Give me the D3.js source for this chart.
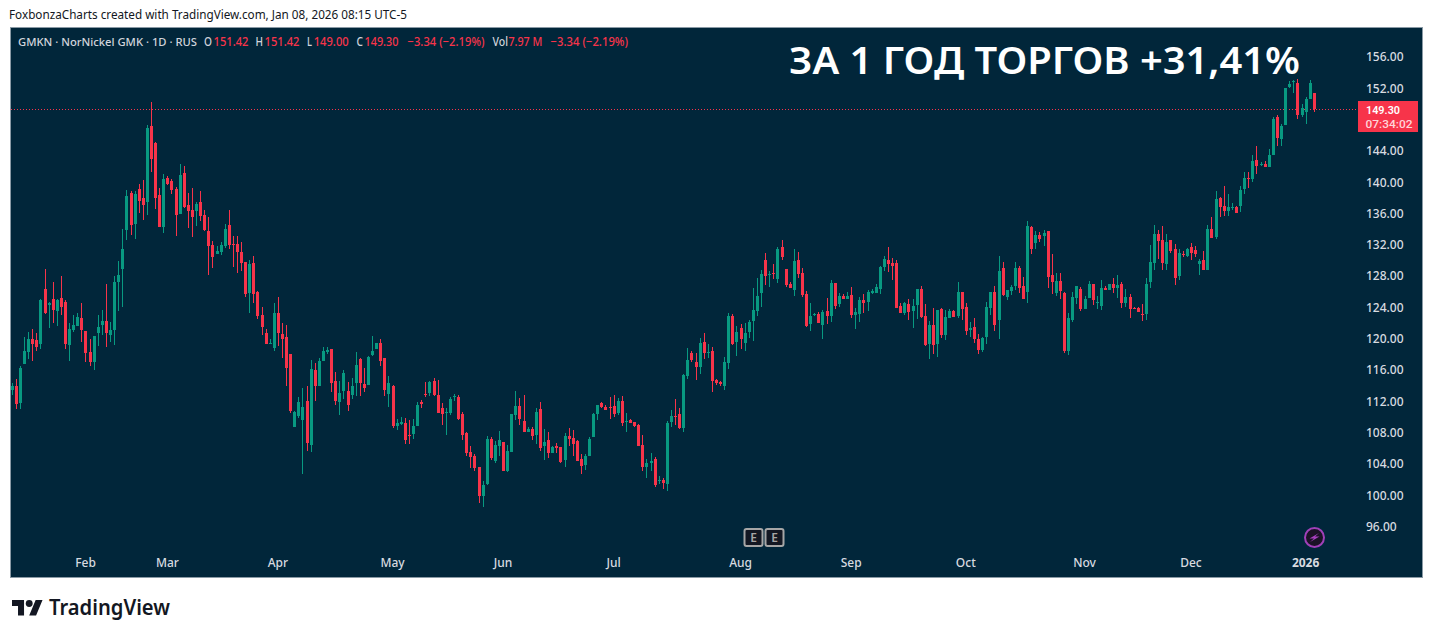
<!DOCTYPE html>
<html><head><meta charset="utf-8">
<script src="https://cdn.jsdelivr.net/npm/d3@7"></script>
<style>html,body{margin:0;padding:0;background:#fff;overflow:hidden}svg{display:block}</style>
</head><body><div id="chart"></div>
<script>
const opens=[113.44,113.95,111.78,116.76,118.3,119.96,119.83,119.32,126.35,124.3,
125.07,123.54,125.2,124.69,119.19,121.11,121.62,122.64,120.98,118.3,
117.02,120.72,121.75,122.26,120.47,121.11,127.24,128.9,133.89,138.62,
134.66,139.13,137.98,137.47,147.18,145.01,138.36,134.27,140.53,140.15,
139.13,135.93,141.17,137.08,136.45,136.32,137.47,135.8,133.76,131.97,
130.82,131.08,131.84,134.53,132.1,132.1,131.08,129.8,125.84,129.67,
125.96,123.03,120.72,119.32,118.81,123.28,120.6,120.21,118.04,108.73,
110.12,109.61,112.03,106.41,116.0,113.95,117.15,118.3,118.68,114.59,
111.91,113.31,113.31,112.8,114.34,117.4,114.21,114.08,117.91,118.68,
119.45,117.53,112.93,113.95,108.84,109.1,109.22,107.69,107.82,108.84,
111.91,112.93,113.06,114.59,112.8,111.14,110.5,110.5,112.55,112.55,
110.37,107.95,105.51,105.0,103.6,99.89,101.43,107.18,104.37,106.28,
106.79,103.09,105.52,110.24,111.4,109.48,108.07,108.46,107.69,111.01,
106.28,107.05,105.39,106.28,106.16,104.49,107.56,107.31,106.92,104.62,
103.86,105.0,107.43,110.37,111.78,111.27,111.27,111.4,110.5,112.04,
109.35,109.61,109.35,108.97,106.41,103.6,104.11,104.62,101.81,101.94,
101.43,109.35,110.12,110.37,108.59,115.23,118.17,117.02,116.38,119.58,
118.17,118.43,114.72,114.46,113.95,116.89,122.9,119.58,121.37,119.45,
120.85,122.26,123.54,125.84,130.06,128.14,128.4,127.63,131.72,128.91,
126.99,126.22,130.06,128.4,125.71,121.88,123.03,123.16,121.75,123.54,
122.9,127.12,124.43,125.46,125.07,125.58,123.03,123.16,124.94,124.69,
125.84,125.84,126.35,129.16,130.06,129.67,129.67,124.18,123.28,124.43,
123.54,124.3,126.35,122.9,119.32,121.74,119.32,123.79,120.47,122.64,
123.53,122.89,125.96,124.04,121.1,121.49,119.95,118.55,120.21,123.92,
125.96,122.38,129.03,125.32,126.09,126.73,129.03,126.73,125.96,134.27,
132.22,133.25,133.12,133.76,128.13,125.83,127.37,125.83,118.42,122.38,
125.19,126.34,123.79,125.19,126.98,124.55,124.17,126.47,126.22,126.98,
126.47,126.98,124.55,125.32,123.92,123.92,123.15,123.15,127.24,129.67,
133.37,132.61,129.54,132.61,131.46,128.0,130.82,130.56,131.71,131.33,
129.54,130.05,128.77,134.01,132.99,137.97,136.95,136.31,136.69,136.82,
136.95,139.12,140.53,140.4,142.83,142.19,142.32,141.93,143.47,148.32,
145.51,147.3,152.16,152.8,152.67,148.58,148.96,150.62,151.42];
const closes=[113.95,111.65,116.25,118.42,119.96,119.32,118.94,124.94,123.28,124.56,
123.67,124.94,124.05,119.32,121.24,121.75,122.77,121.11,118.17,117.02,
120.34,121.49,122.26,120.72,121.11,127.24,128.14,131.46,138.23,134.53,
138.49,137.6,137.08,146.92,142.96,137.98,134.27,140.41,139.77,139.0,
135.8,140.92,136.83,136.32,135.55,137.21,135.68,133.89,131.84,130.44,
131.2,131.97,134.02,131.97,131.97,131.08,129.67,125.71,129.54,125.71,
122.9,121.49,119.32,119.45,123.28,120.72,119.96,116.25,110.76,110.63,
111.91,111.27,106.67,116.12,113.95,117.15,118.42,118.55,114.34,112.03,
113.06,115.61,111.52,113.95,116.64,114.34,113.7,117.66,118.42,119.45,
117.15,113.44,114.34,108.84,109.22,109.35,107.05,107.56,108.84,111.52,
111.65,112.8,114.46,112.8,110.5,110.37,110.63,112.29,112.67,109.73,
107.69,105.39,104.88,103.47,99.89,101.3,107.18,104.75,106.41,107.05,
103.09,105.64,110.37,111.4,109.73,108.07,108.46,107.56,110.63,106.03,
106.79,105.39,106.16,106.03,104.24,107.56,107.18,106.54,104.37,103.73,
105.0,107.18,110.37,111.52,111.27,110.88,111.14,110.37,112.04,109.22,
109.48,109.22,108.84,106.29,103.6,104.11,104.37,101.3,101.94,101.56,
109.23,110.12,110.0,108.59,115.36,117.28,117.28,116.38,119.45,118.17,
118.3,114.59,114.34,114.21,117.02,122.9,119.32,120.85,119.96,120.73,
122.13,123.67,125.46,128.27,128.01,128.27,128.27,131.46,130.44,126.86,
126.48,129.93,128.27,125.58,121.62,122.9,123.16,122.0,123.41,122.9,
127.12,124.18,125.46,125.07,125.46,123.03,123.41,124.94,124.56,125.97,
126.09,126.6,129.16,130.18,129.54,129.29,123.92,123.28,124.56,123.41,
124.18,126.35,122.77,119.19,121.75,119.19,123.66,120.47,122.77,123.53,
122.77,125.96,123.79,120.98,121.36,119.95,118.55,120.08,124.04,125.96,
121.74,128.64,125.58,126.22,126.6,129.03,126.47,125.06,134.4,131.46,
133.25,132.73,133.5,127.88,127.24,127.37,126.09,118.42,122.64,125.32,
126.73,123.79,125.06,126.98,124.94,124.68,126.47,126.22,126.98,126.47,
126.85,124.55,125.32,123.79,123.79,123.4,123.02,126.98,129.8,133.37,
132.48,129.67,132.35,131.2,127.75,130.95,130.69,131.46,130.94,130.82,
129.92,128.77,134.01,132.86,137.84,136.82,136.31,136.82,136.82,136.05,
138.99,140.53,140.4,142.7,142.06,142.32,141.93,143.47,148.07,145.64,
147.17,152.03,152.54,152.92,148.58,149.47,150.62,152.67,149.3];
const highs=[114.29,114.85,116.5,120.2,120.85,121.24,120.72,125.07,128.9,124.69,
127.24,125.07,128.01,124.94,122.0,123.03,123.28,124.56,120.98,119.96,
120.34,123.03,123.67,126.99,122.13,128.01,129.93,134.02,139.0,138.87,
138.87,139.77,140.28,147.31,150.25,145.14,139.26,141.05,140.79,140.41,
139.38,142.32,142.07,138.62,139.26,137.47,138.87,136.45,135.55,132.48,
131.84,132.36,134.66,136.45,133.12,133.12,132.36,129.8,130.05,130.57,
126.09,124.05,121.24,119.96,124.56,125.33,122.0,121.75,118.04,110.76,
112.55,113.68,113.95,117.27,116.89,117.53,118.94,118.94,118.68,115.74,
114.59,116.0,114.46,114.97,118.3,117.53,116.25,117.79,120.34,119.45,
119.96,117.53,115.23,114.08,109.73,109.99,109.86,109.61,109.73,111.91,
112.16,114.46,114.59,114.97,114.72,111.78,111.14,112.55,112.93,112.8,
110.63,108.07,106.28,105.26,103.6,101.81,107.56,107.43,106.92,108.2,
106.79,106.41,110.37,113.31,112.42,112.8,108.71,108.71,111.14,111.91,
108.46,108.07,106.28,106.67,106.16,107.94,108.58,108.33,107.05,105.26,
105.26,107.43,110.5,111.52,111.91,111.52,112.55,112.8,112.42,112.68,
110.5,109.74,109.35,109.1,107.69,104.62,105.39,104.88,102.45,102.2,
109.48,110.89,112.29,111.14,115.49,118.81,118.43,118.17,120.09,120.73,
119.32,118.94,114.85,114.59,117.66,123.28,123.16,121.62,121.88,122.0,
122.39,126.48,127.76,128.78,130.95,128.65,129.54,131.72,132.61,128.91,
127.24,131.46,131.08,129.03,126.09,124.56,123.28,123.41,123.67,125.2,
127.5,127.12,125.84,125.71,125.97,126.6,123.92,125.33,125.71,126.22,
126.35,126.99,129.29,130.57,131.72,130.31,130.06,124.56,124.69,125.07,
125.07,126.35,126.73,124.43,122.26,123.92,123.66,123.92,123.66,123.79,
123.66,127.24,125.96,124.56,122.13,122.64,120.59,120.21,124.68,125.96,
126.73,130.56,129.79,126.22,126.86,129.79,129.28,127.88,135.03,134.4,
133.76,133.63,133.88,133.76,130.82,128.39,128.39,125.96,123.28,125.96,
126.73,126.6,125.45,127.37,126.98,125.45,127.49,126.73,126.98,127.75,
128.13,127.24,126.34,125.7,124.04,124.04,124.43,127.75,131.97,134.52,
133.88,134.4,133.37,132.61,132.09,131.46,131.2,131.58,132.22,131.84,
130.17,131.2,134.52,135.54,138.87,138.1,139.51,138.48,137.33,136.95,
139.51,141.29,141.29,143.47,144.62,142.57,142.7,144.23,148.32,148.58,
147.43,152.03,152.92,153.05,153.18,149.98,150.88,153.05,151.42];
const lows=[112.8,111.0,111.0,116.76,117.4,117.15,118.42,118.68,123.15,121.36,
121.98,121.62,123.03,118.68,117.15,120.85,121.62,119.58,117.02,116.51,
116.0,119.09,120.47,118.94,119.58,119.19,123.54,124.07,132.61,133.25,
132.74,136.06,135.17,135.8,141.3,136.57,134.27,133.5,139.64,138.49,
133.12,135.93,136.7,134.14,133.0,134.4,135.04,133.76,128.14,129.03,
130.82,130.69,131.59,131.46,129.18,128.42,128.65,125.33,123.28,124.56,
122.52,120.47,119.32,119.32,118.43,119.09,117.53,113.95,110.5,108.73,
109.86,102.71,105.65,105.52,112.03,113.95,117.15,118.04,113.2,111.52,
110.24,112.29,110.76,112.29,112.67,112.67,113.19,114.08,117.79,118.68,
116.51,112.67,111.27,108.58,108.33,108.97,106.54,106.54,107.18,108.84,
111.14,112.55,112.67,112.67,110.5,108.97,107.69,110.24,112.03,109.61,
107.05,105.0,103.47,103.09,98.98,98.49,101.3,104.49,104.11,105.0,
103.09,102.96,105.52,109.61,108.97,108.07,108.07,107.05,106.54,105.65,
104.49,104.75,105.39,105.39,104.11,103.6,106.28,105.0,104.37,102.71,
103.22,105.0,107.43,109.61,111.14,110.88,109.74,110.0,110.25,108.84,
108.07,109.22,108.71,106.29,103.09,102.2,103.09,101.05,101.43,100.79,
100.53,108.71,108.97,108.46,108.07,114.85,117.02,114.72,115.49,117.4,
117.53,113.19,114.08,113.95,113.44,116.13,119.19,117.79,118.68,118.43,
120.09,119.7,122.9,124.05,126.86,126.61,127.63,127.12,130.06,126.61,
126.48,125.46,127.76,125.33,121.49,120.98,122.9,122.0,119.96,121.88,
122.13,123.8,124.05,125.07,125.07,122.64,121.24,122.13,123.28,123.54,
125.71,125.84,125.71,128.65,128.52,127.5,123.92,123.28,123.03,122.39,
121.37,122.52,122.64,119.07,117.4,118.04,117.65,120.08,119.83,122.64,
122.77,122.64,122.38,120.47,120.21,119.44,118.04,118.29,119.32,123.02,
120.98,119.95,125.45,124.94,125.58,126.22,125.83,125.06,124.55,130.82,
131.46,132.35,131.84,126.47,125.7,125.45,125.06,118.17,117.91,122.13,
124.43,123.53,123.79,125.19,124.3,123.79,123.66,126.22,126.22,125.83,
125.19,123.92,124.04,122.64,123.79,123.4,122.25,122.38,126.47,128.77,
130.18,128.77,128.77,130.95,126.85,127.49,130.43,130.43,130.05,130.43,
128.13,128.77,128.77,132.86,132.73,135.54,135.67,135.67,136.44,136.05,
136.18,138.48,139.25,140.02,141.04,142.06,141.93,141.93,143.47,144.62,
144.62,147.3,152.03,151.39,148.07,148.32,147.43,150.62,149.0];

const priceTicks=[96,100,104,108,112,116,120,124,128,132,136,140,144,152,156];
const timeTickBars=[18,38,65,93,120,147,178,205,233,262,288,316];
const timeTickLabels=["Feb","Mar","Apr","May","Jun","Jul","Aug","Sep","Oct","Nov","Dec","2026"];
const lastClose=149.30;

const W=1433,H=638;
const FONT='"Noto Sans",sans-serif';
const BG='#01263a',UP='#089981',DOWN='#f7344a',AXIS='#d8dbe0';
const svg=d3.select('#chart').append('svg').attr('width',W).attr('height',H);
svg.append('rect').attr('width',W).attr('height',H).attr('fill','#fff');
svg.append('rect').attr('x',10.5).attr('y',27.5).attr('width',1412).attr('height',550)
  .attr('fill',BG).attr('stroke','#8a9aa5').attr('stroke-width',1);

const x=d3.scaleLinear().domain([0,opens.length-1]).range([12.3,1314.3]);
const y=d3.scaleLinear().domain([96,156]).range([526.5,57]);
const bars=opens.map((o,i)=>({i,o,c:closes[i],h:highs[i],l:lows[i],col:closes[i]>=o?UP:DOWN}));
const cx=d=>Math.floor(x(d.i));

// last price line
svg.append('line').attr('x1',11).attr('x2',1358).attr('y1',Math.floor(y(lastClose))+.5).attr('y2',Math.floor(y(lastClose))+.5)
  .attr('stroke',DOWN).attr('stroke-width',1).attr('stroke-dasharray','1 2');

const g=svg.append('g').attr('shape-rendering','crispEdges');
g.selectAll('rect.wick').data(bars).join('rect').attr('class','wick')
  .attr('x',cx).attr('width',1)
  .attr('y',d=>Math.round(y(d.h))).attr('height',d=>Math.max(1,Math.round(y(d.l))-Math.round(y(d.h))))
  .attr('fill',d=>d.col);
g.selectAll('rect.body').data(bars).join('rect').attr('class','body')
  .attr('x',d=>cx(d)-1).attr('width',3)
  .attr('y',d=>Math.round(y(Math.max(d.o,d.c))))
  .attr('height',d=>Math.max(1,Math.round(y(Math.min(d.o,d.c)))-Math.round(y(Math.max(d.o,d.c)))))
  .attr('fill',d=>d.col);

// axes
const ay=svg.append('g').attr('transform','translate(1366,0)')
  .call(d3.axisRight(y).tickValues(priceTicks).tickSize(0).tickPadding(0).tickFormat(d3.format('.2f')));
ay.select('.domain').remove();
ay.selectAll('text').attr('fill',AXIS).attr('font-family',FONT).attr('font-size',12).attr('font-weight',500);

const ax=svg.append('g').attr('transform','translate(-1,558.5)')
  .call(d3.axisBottom(x).tickValues(timeTickBars).tickSize(0).tickPadding(0).tickFormat((d,i)=>timeTickLabels[i]));
ax.select('.domain').remove();
ax.selectAll('text').attr('fill',AXIS).attr('font-family',FONT).attr('font-size',12).attr('font-weight',(d,i)=>timeTickLabels[i]==='2026'?700:500);

// header
function txt(s,px,py,size,fill,weight,len,anchor,family){
  const t=svg.append('text').attr('x',px).attr('y',py).attr('font-family',family||FONT).attr('font-size',size)
    .attr('fill',fill).attr('font-weight',weight||400).text(s);
  if(len){t.attr('textLength',len).attr('lengthAdjust','spacingAndGlyphs');}
  if(anchor)t.attr('text-anchor',anchor);
  return t;
}
txt('FoxbonzaCharts created with TradingView.com, Jan 08, 2026 08:15 UTC-5',9,19,12,'#131722',400,398);
const LG='#d1d4dc',LR='#f7344a';
txt('GMKN · NorNickel GMK · 1D · RUS',18,45.5,11,LG,500,179);
[['O',204,LG,8],['151.42',213.5,LR,35],['H',255.5,LG,7.5],['151.42',264.5,LR,35],['L',307,LG,5],['149.00',313.7,LR,35],
 ['C',356.5,LG,6.5],['149.30',364.5,LR,34],['−3.34 (−2.19%)',407.5,LR,77],['Vol',492.5,LG,15.5],['7.97 M',508.4,LR,34],['−3.34 (−2.19%)',550.5,LR,77.5]]
 .forEach(a=>txt(a[0],a[1],45.5,12,a[2],500,a[3]));

txt('ЗА 1 ГОД ТОРГОВ +31,41%',789,74,38,'#ffffff',600,511);

// price tag
svg.append('rect').attr('x',1358).attr('y',101).attr('width',60).attr('height',31).attr('fill',DOWN);
txt('149.30',1366,113.5,11.5,'#ffffff',600,34,null,'Roboto,sans-serif');
txt('07:34:02',1365.5,127.5,11.5,'#ffd3d8',500,47,null,'Roboto,sans-serif');

// earnings markers
[753.5,774.5].forEach(cxx=>{
  svg.append('rect').attr('x',cxx-9).attr('y',529).attr('width',18).attr('height',17).attr('rx',2)
   .attr('fill','#131722').attr('stroke','#a6a6a6').attr('stroke-width',2);
  txt('E',cxx,542,12,'#a6a6a6',600,null,'middle');
});

// lightning badge
svg.append('circle').attr('cx',1314.5).attr('cy',537.5).attr('r',9.5)
  .attr('fill','#1b1226').attr('stroke','#a040b8').attr('stroke-width',2);
svg.append('path').attr('d','M1319 533L1309.5 538.5H1314L1310 542L1319.5 536.5H1315Z').attr('fill','#a83fc0');

// logo
const lg=svg.append('g').attr('transform','translate(12,596.6) scale(.86)').attr('fill','#131722');
lg.append('path').attr('d','M14 22H7V11H0V4h14v18zM28 22h-8l7.5-18h8L28 22z');
lg.append('circle').attr('cx',20).attr('cy',8).attr('r',4);
txt('TradingView',49,615,21,'#131722',600,121);
</script></body></html>
